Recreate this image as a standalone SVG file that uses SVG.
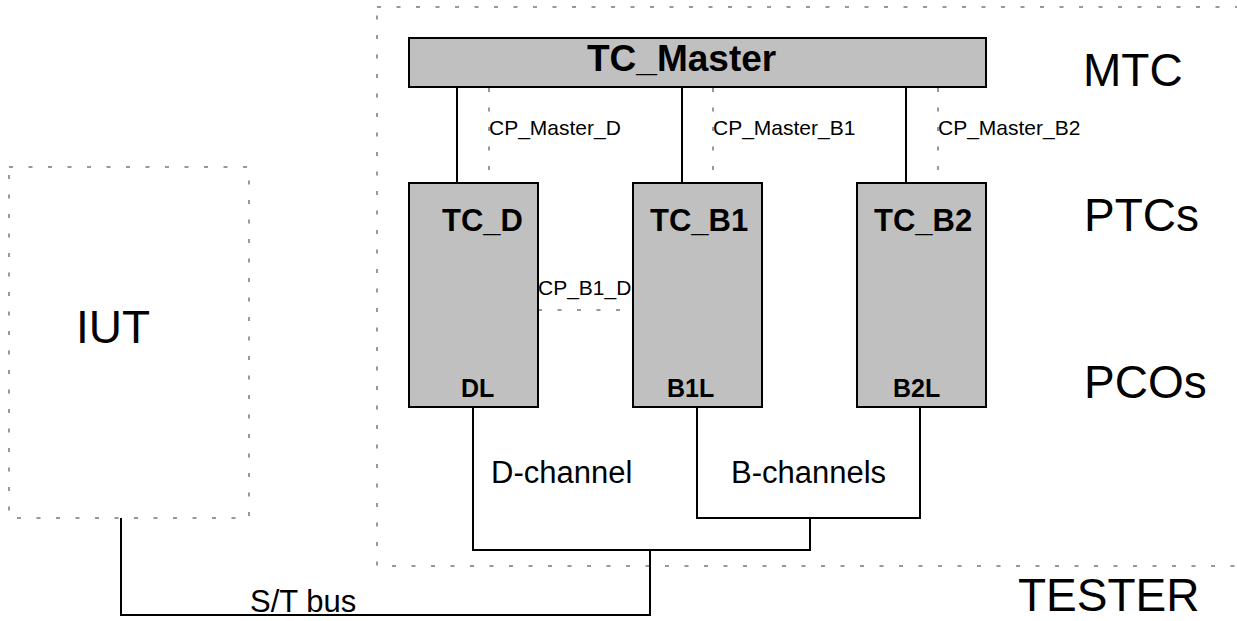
<svg xmlns="http://www.w3.org/2000/svg" width="1237" height="621" viewBox="0 0 1237 621">
<style>
.box{fill:#c0c0c0;stroke:#000;stroke-width:2}
.dot{fill:none;stroke:#333;stroke-width:1;stroke-dasharray:4 15.5}
.wire{fill:none;stroke:#000;stroke-width:2}
text{font-family:"Liberation Sans",Arial,sans-serif;fill:#000}
.b{font-weight:bold}
.big{font-size:46px}
.mid{font-size:31px}
.sm{font-size:21px}
</style>
<rect width="1237" height="621" fill="#fff"/>
<g id="tester">
<rect class="dot" x="377" y="7" width="900" height="559"/>
<text class="big" x="1018" y="611">TESTER</text>
<text class="big" x="1083" y="86">MTC</text>
<text class="big" x="1084" y="231">PTCs</text>
<text class="big" x="1084" y="398">PCOs</text>
</g>
<g id="iut">
<rect class="dot" x="9" y="167" width="240" height="351"/>
<text class="big" x="76" y="343">IUT</text>
</g>
<g id="connectors">
<path class="wire" d="M457,87V183M682,87V183M906,87V183"/>
<path class="dot" d="M489,88V183M713,88V183M938,88V183M538,310H633"/>
<path class="wire" d="M473,407V550H810V518M697,407V518H920V407M650,550V615H121V518"/>
<text class="sm" x="489" y="135">CP_Master_D</text>
<text class="sm" x="713" y="135">CP_Master_B1</text>
<text class="sm" x="938" y="135">CP_Master_B2</text>
<text class="sm" x="538" y="295">CP_B1_D</text>
<text class="mid" x="491" y="483">D-channel</text>
<text class="mid" x="731" y="483">B-channels</text>
<text class="mid" x="250" y="612">S/T bus</text>
</g>
<g id="tc_master">
<rect class="box" x="409" y="38" width="577" height="49"/>
<text class="b" font-size="37" x="587" y="71">TC_Master</text>
</g>
<g id="tc_d">
<rect class="box" x="409" y="183" width="129" height="224"/>
<text class="b" font-size="31" x="442" y="231">TC_D</text>
<text class="b" font-size="25" x="461" y="397">DL</text>
</g>
<g id="tc_b1">
<rect class="box" x="633" y="183" width="129" height="224"/>
<text class="b" font-size="31" x="650" y="231">TC_B1</text>
<text class="b" font-size="25" x="667" y="397">B1L</text>
</g>
<g id="tc_b2">
<rect class="box" x="857" y="183" width="129" height="224"/>
<text class="b" font-size="31" x="874" y="231">TC_B2</text>
<text class="b" font-size="25" x="893" y="397">B2L</text>
</g>
</svg>
